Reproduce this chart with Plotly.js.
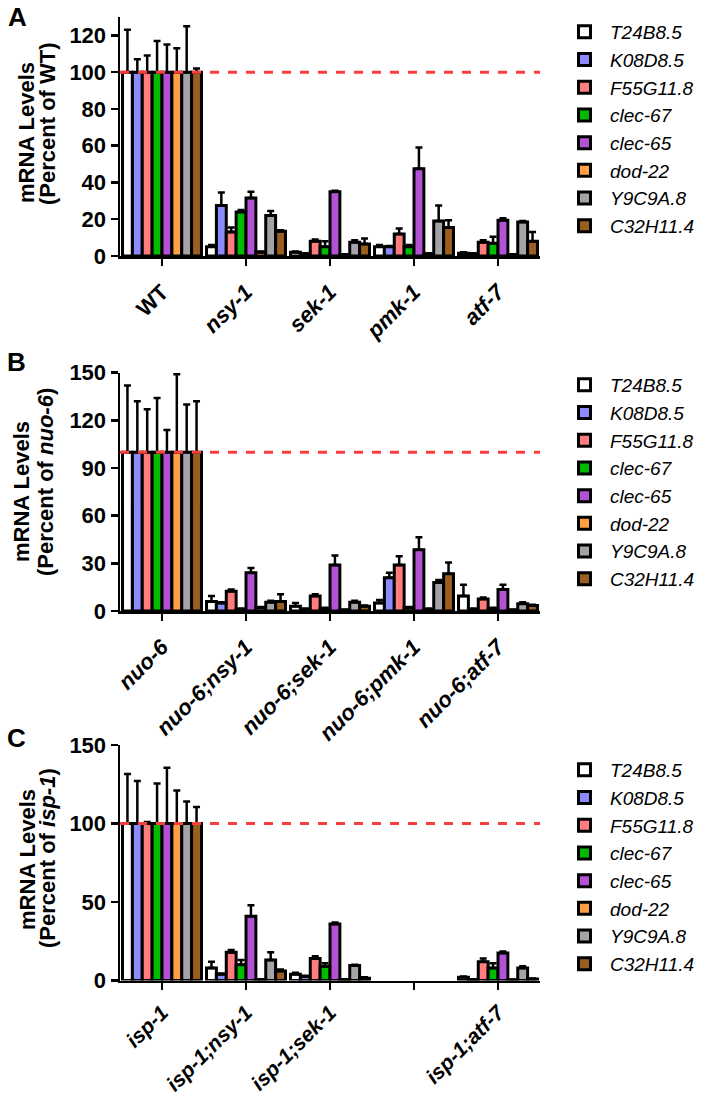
<!DOCTYPE html>
<html>
<head>
<meta charset="utf-8">
<script src="https://cdn.plot.ly/plotly-3.0.1.min.js"></script>
<style>
  body { margin: 0; background: #fff; }
  #chart1 { width: 709px; height: 1099px; }
</style>
</head>
<body>
<div id="chart1"></div>
<script>

// genes in the legend (same order for every panel)
var genes = ["T24B8.5", "K08D8.5", "F55G11.8", "clec-67", "clec-65", "dod-22", "Y9C9A.8", "C32H11.4"]

// strains on the x axis
var groupsA = ["WT", "<i>nsy-1</i>", "<i>sek-1</i>", "<i>pmk-1</i>", "<i>atf-7</i>"]
var groupsB = ["<i>nuo-6</i>", "<i>nuo-6;nsy-1</i>", "<i>nuo-6;sek-1</i>", "<i>nuo-6;pmk-1</i>", "<i>nuo-6;atf-7</i>"]
var groupsC = ["<i>isp-1</i>", "<i>isp-1;nsy-1</i>", "<i>isp-1;sek-1</i>", "", "<i>isp-1;atf-7</i>"]

// mean mRNA level, one row per gene, one column per strain
var meanA = [
    [100, 5, 2, 5, 1.5],
    [100, 27.5, 1, 5, 1],
    [100, 13, 8, 12, 7.5],
    [100, 24, 5, 5, 7],
    [100, 31.5, 35, 47.5, 19.5],
    [100, 2, 0.5, 1, 0.5],
    [100, 22, 7.5, 19, 18.5],
    [100, 13.5, 6.5, 15.5, 8]
]
var errA = [
    [23, 1, 0.5, 1, 0.5],
    [7, 7, 0.5, 0.5, 0.5],
    [9, 2.5, 1, 3, 1],
    [17, 1, 3, 1, 3.5],
    [15, 3.5, 0.5, 11.5, 1],
    [13, 0.5, 0.5, 0.5, 0.5],
    [25, 2.5, 1, 8.5, 0.5],
    [2, 0.5, 3, 4, 5]
]

var meanB = [
    [100, 6, 3, 5, 9.5],
    [100, 5, 1, 21, 1],
    [100, 12.5, 9.5, 29, 7.5],
    [100, 1, 1.5, 2, 1.5],
    [100, 24, 29, 38.5, 13.5],
    [100, 2, 0.5, 1, 0.5],
    [100, 5.5, 5.5, 18, 4.5],
    [100, 6, 3, 23.5, 3.5]
]
var errB = [
    [42, 3.5, 2, 2, 7],
    [32, 0.5, 0.5, 3, 0.5],
    [27, 1, 1, 5.5, 1],
    [34, 0.5, 0.5, 0.5, 0.5],
    [14, 3, 6, 8, 3],
    [49, 0.5, 0.5, 0.5, 0.5],
    [30, 1, 1, 1.5, 1],
    [32, 4.5, 0.5, 7, 0.5]
]

// no isp-1;pmk-1 data in panel C
var meanC = [
    [100, 8, 4, null, 2],
    [100, 4, 2.5, null, 0.5],
    [100, 18, 14, null, 12],
    [100, 10, 9, null, 8],
    [100, 41, 36, null, 17.5],
    [100, 0.5, 0.5, null, 0.3],
    [100, 13, 9.5, null, 8],
    [100, 6, 1.5, null, 1]
]
var errC = [
    [31.5, 4, 1, null, 0.5],
    [27, 0.5, 0.5, null, 0.3],
    [1, 1.5, 1.5, null, 2],
    [25.5, 3, 2, null, 3],
    [35.5, 7, 1, null, 1],
    [21, 0.3, 0.3, null, 0.3],
    [14, 5, 0.5, null, 1],
    [10.5, 1, 0.5, null, 0.3]
]

var colors = ["#ffffff", "#8b8bff", "#ff7d7d", "#00bb00", "#b452d6", "#ffa044", "#a3a3a8", "#9a5f1e"]
var FONT = "Liberation Sans, Arial, sans-serif"
var W = 709, H = 1099

var traces = []

function addPanel(means, errs, groups, xa, ya, leg){
    for (let k=0; k<genes.length; k++){
        traces.push({
            type: 'bar',
            name: genes[k],
            x: groups.map((g,i)=>i),
            y: means[k],
            xaxis: xa,
            yaxis: ya,
            legend: leg,
            marker: {color: colors[k], line: {color: '#000', width: 3}},
            error_y: {
                type: 'data',
                array: errs[k],
                symmetric: false,
                arrayminus: errs[k].map(()=>0),
                color: '#000',
                thickness: 2.5,
                width: 3.5
            }
        })
    }
}

addPanel(meanA, errA, groupsA, 'x', 'y', 'legend')
addPanel(meanB, errB, groupsB, 'x2', 'y2', 'legend2')
addPanel(meanC, errC, groupsC, 'x3', 'y3', 'legend3')

// pixel -> paper helpers
function px(x){ return x / W }
function py(y){ return 1 - y / H }

function xAxis(groups, anchor, fsize, standoff){
    return {
        domain: [px(120), px(540)],
        anchor: anchor,
        range: [-0.5, 4.5],
        tickmode: 'array',
        tickvals: groups.map((g,i)=>i),
        ticktext: groups,
        tickangle: -45,
        ticklabelstandoff: standoff,
        tickfont: {family: FONT, size: fsize, weight: 'bold', color: '#000'},
        showline: true, linecolor: '#000', linewidth: 2.5,
        ticks: 'outside', ticklen: 7, tickwidth: 2.5, tickcolor: '#000',
        showgrid: false, zeroline: false, fixedrange: true
    }
}

function yAxis(anchor, top, bottom, ymax, step){
    return {
        domain: [py(bottom), py(top)],
        anchor: anchor,
        range: [0, ymax],
        tick0: 0, dtick: step,
        tickfont: {family: FONT, size: 22, weight: 'bold', color: '#000'},
        showline: true, linecolor: '#000', linewidth: 2.5,
        ticks: 'outside', ticklen: 7, tickwidth: 2.5, tickcolor: '#000',
        showgrid: false, zeroline: false, fixedrange: true
    }
}

function legendAt(top){
    return {
        x: px(559), y: py(top), xanchor: 'left', yanchor: 'top',
        itemwidth: 41,
        font: {family: FONT, size: 19, style: 'italic', color: '#000'},
        bgcolor: 'rgba(0,0,0,0)', traceorder: 'normal'
    }
}

function dashed(xref, yref){
    return {
        type: 'line', xref: xref + ' domain', yref: yref,
        x0: 0, x1: 1, y0: 100, y1: 100, layer: 'above',
        line: {color: '#ff3c3c', width: 3, dash: 'dash'}
    }
}

function yTitle(text, x, y){
    return {
        text: text, xref: 'paper', yref: 'paper', x: px(x), y: py(y),
        xanchor: 'center', yanchor: 'middle', textangle: -90, showarrow: false,
        font: {family: FONT, size: 22, weight: 'bold', color: '#000'}
    }
}

function letter(text, x, y){
    return {
        text: text, xref: 'paper', yref: 'paper', x: px(x), y: py(y),
        xanchor: 'center', yanchor: 'middle', showarrow: false,
        font: {family: FONT, size: 26, weight: 'bold', color: '#000'}
    }
}

var layout = {
    width: W, height: H,
    margin: {l: 0, r: 0, t: 0, b: 0},
    paper_bgcolor: '#fff', plot_bgcolor: 'rgba(0,0,0,0)',
    barmode: 'group', bargap: 0.06, bargroupgap: 0,
    showlegend: true,
    xaxis: xAxis(groupsA, 'y', 22, 5),
    yaxis: yAxis('x', 17, 256, 130, 20),
    xaxis2: xAxis(groupsB, 'y2', 22, 5),
    yaxis2: yAxis('x2', 372.7, 611, 150, 30),
    // bottom panel sits close to the page edge, so its labels are a bit tighter
    xaxis3: xAxis(groupsC, 'y3', 21, 2),
    yaxis3: yAxis('x3', 745, 980.5, 150, 50),
    legend: legendAt(13),
    legend2: legendAt(366),
    legend3: legendAt(751),
    shapes: [dashed('x', 'y'), dashed('x2', 'y2'), dashed('x3', 'y3')],
    annotations: [
        letter('A', 17, 17), letter('B', 16, 362), letter('C', 16, 738),
        yTitle('mRNA Levels', 27, 133), yTitle('(Percent of WT)', 48, 124),
        yTitle('mRNA Levels', 21, 492), yTitle('(Percent of <i>nuo-6</i>)', 45, 482),
        yTitle('mRNA Levels', 27, 860), yTitle('(Percent of <i>isp-1</i>)', 47, 858)
    ]
}

window.onload = function(){
    Plotly.newPlot('chart1', traces, layout, {displayModeBar: false, staticPlot: true})
}
</script>
</body>
</html>
